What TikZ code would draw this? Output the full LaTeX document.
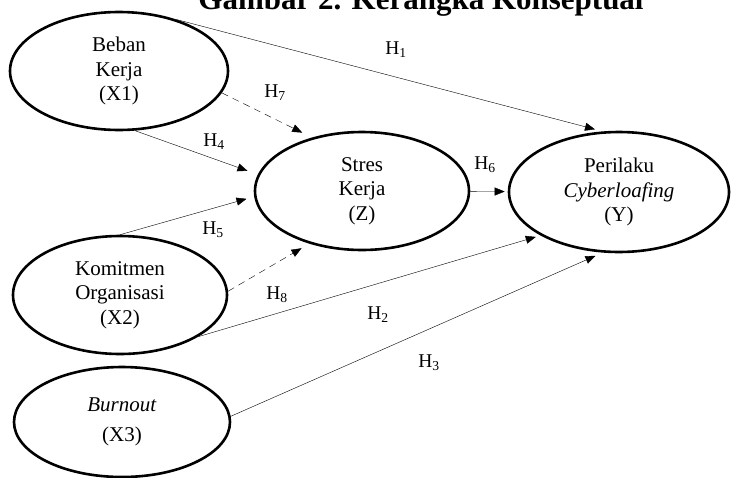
\documentclass[tikz,border=0pt]{standalone}
\usepackage{fontspec}
\setmainfont{Liberation Serif}
\usetikzlibrary{shapes.geometric, arrows.meta, positioning}
\tikzset{
	line width = 1.7pt,
	>={Triangle[length=10pt, width=8pt]},
	font = \fontsize{21}{24.5}\selectfont,
	latent/.style={
		draw,
		ellipse,
		line width=2.6pt,
		inner sep=0pt,
		align=center
	},
	effect/.style={
		->,
		shorten >=8pt
	},
	mediated/.style={
		effect,
		dash pattern=on 7pt off 5pt
	},
	hyp/.style={font=\fontsize{19.5}{22}\selectfont}
}

\begin{document}
\begin{tikzpicture}[x=1pt, y=-1pt]
	\useasboundingbox (0,0) rectangle (731,477);
	\clip (0,0) rectangle (731,477);
	\node[font=\bfseries\fontsize{31}{36}\selectfont, anchor=base] (title) at (421,9) {Gambar 2. Kerangka Konseptual};

	\node[latent, minimum width=218pt, minimum height=118pt] (x1) at (119,71) {Beban\\Kerja\\(X1)};
	\node[latent, minimum width=214pt, minimum height=118pt] (z) at (362,191) {Stres\\Kerja\\(Z)};
	\node[latent, minimum width=220pt, minimum height=120pt] (y) at (619,192) {Perilaku\\\textit{Cyberloafing}\\(Y)};
	\node[latent, minimum width=214pt, minimum height=118pt] (x2) at (120,295) {Komitmen\\Organisasi\\(X2)};
	\node[latent, minimum width=216pt, minimum height=110pt] (x3) at (122,422) {\textit{Burnout}\\[5pt](X3)};

	\draw[effect] (x1.42) -- (y.105);
	\draw[mediated, shorten >=11pt] (x1.-12) -- (z.133);
	\draw[effect, shorten >=11pt] (x1.-75) -- (z.171);
	\draw[effect, shorten >=8pt] (x2.90) -- (z.-177);
	\draw[mediated, shorten >=9pt] (x2.2) -- (z.225);
	\draw[effect, shorten >=3pt] (z) -- (y);
	\draw[effect, shorten >=5pt] (x2.-28) -- (y.209);
	\draw[effect] (x3.3) -- (y.255);

	\node[hyp] (h1) at (396,50) {H\textsubscript{1}};
	\node[hyp] (h7) at (275,93) {H\textsubscript{7}};
	\node[hyp] (h4) at (214,142) {H\textsubscript{4}};
	\node[hyp] (h5) at (213,230) {H\textsubscript{5}};
	\node[hyp] (h6) at (485,165) {H\textsubscript{6}};
	\node[hyp] (h8) at (277,295) {H\textsubscript{8}};
	\node[hyp] (h2) at (378,315) {H\textsubscript{2}};
	\node[hyp] (h3) at (429,363) {H\textsubscript{3}};
\end{tikzpicture}
\end{document}
